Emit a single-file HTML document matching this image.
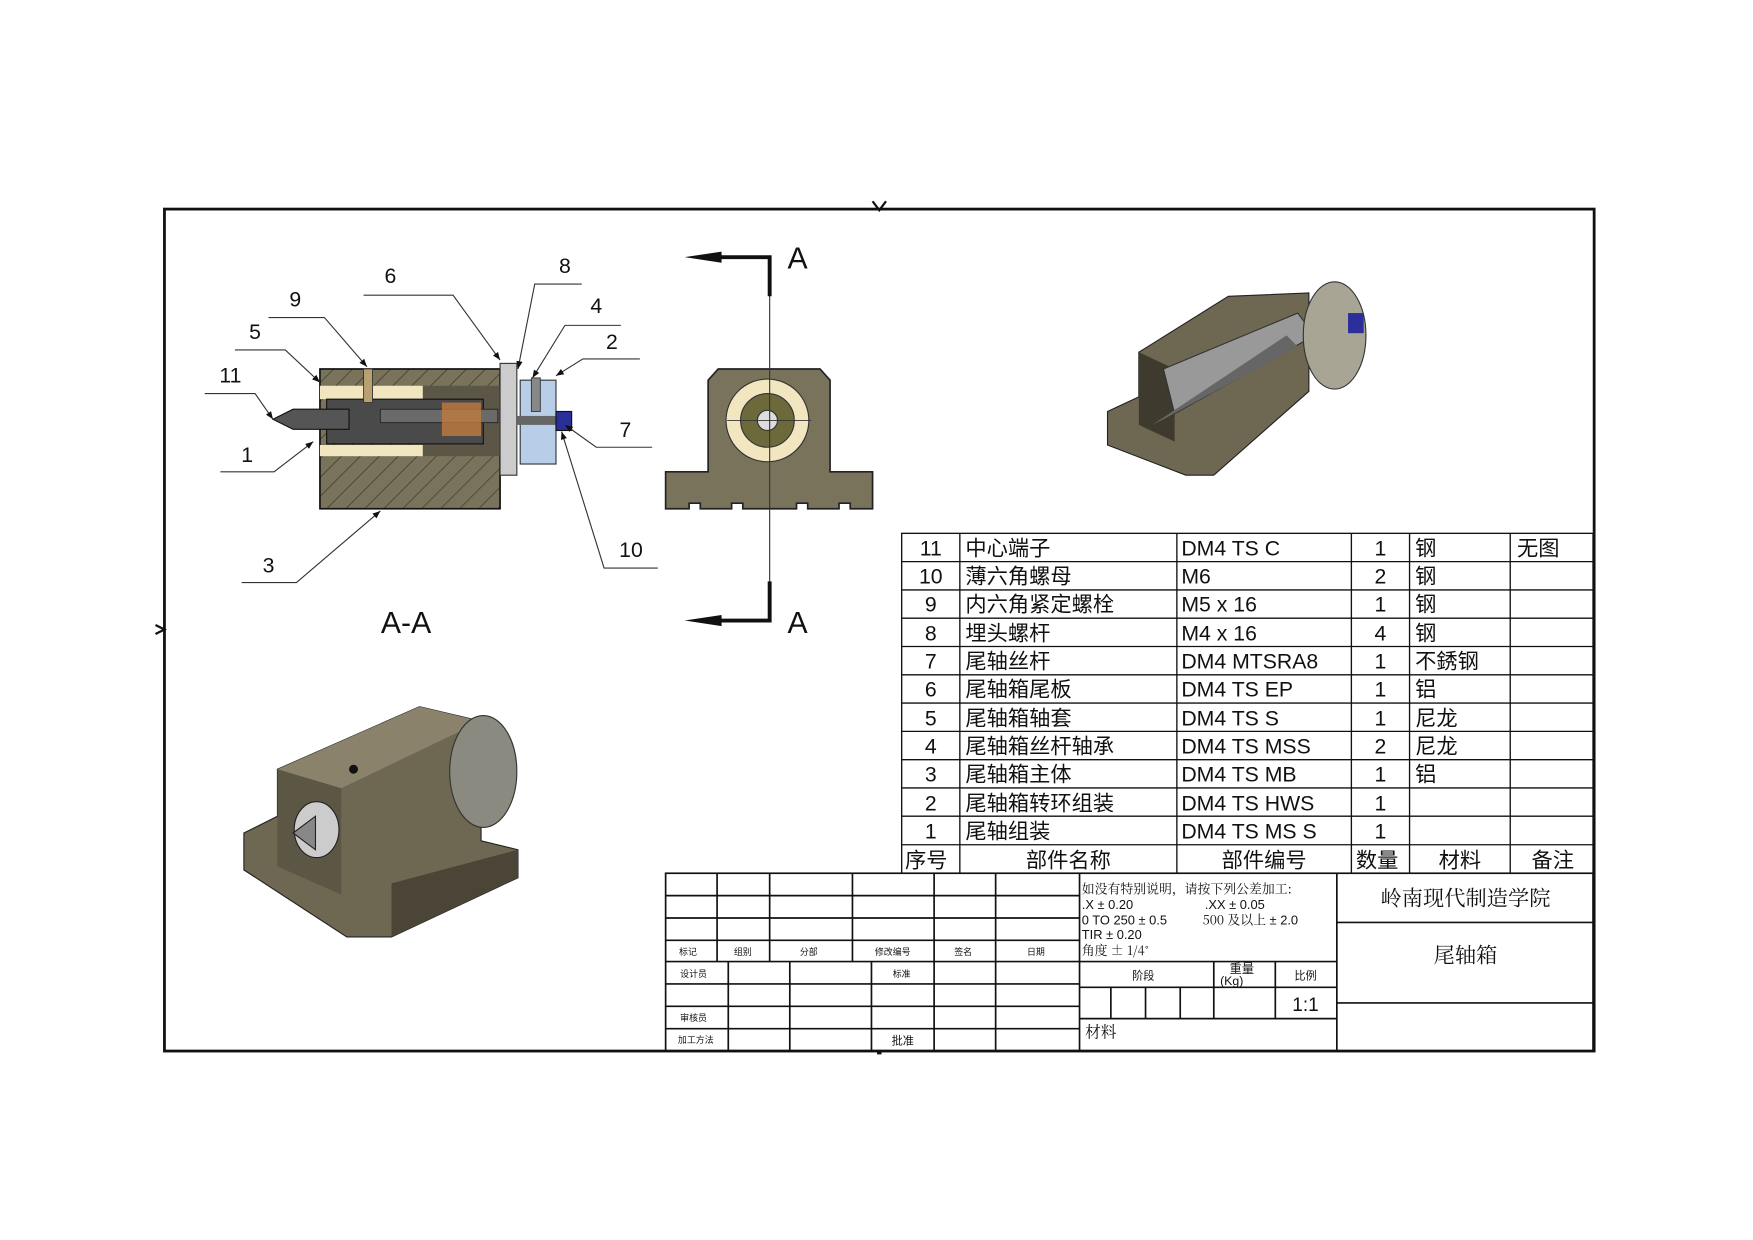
<!DOCTYPE html>
<html><head><meta charset="utf-8"><style>
html,body{margin:0;padding:0;background:#fff}
svg{display:block}
text{font-family:"Liberation Sans","Noto Sans CJK SC",sans-serif;fill:#111}
.cj{font-family:"Noto Serif CJK SC","Noto Sans CJK SC",serif}
</style></head><body>
<svg width="1753" height="1240" viewBox="0 0 1567 1109" preserveAspectRatio="none" xmlns="http://www.w3.org/2000/svg">
<defs>
<pattern id="h" width="12" height="12" patternUnits="userSpaceOnUse" patternTransform="rotate(45)">
<rect width="12" height="12" fill="#7a735c"/><line x1="0" y1="0" x2="0" y2="12" stroke="#2d2a20" stroke-width="1"/></pattern>
<marker id="ar" viewBox="0 0 10 10" refX="10" refY="5" markerWidth="7" markerHeight="7" orient="auto"><path d="M0,1 L10,5 L0,9z" fill="#111"/></marker>
</defs>
<!-- border -->
<rect x="147" y="187" width="1278" height="753" fill="none" stroke="#111" stroke-width="2.5"/>
<path d="M780,180 L786,188 L792,180" stroke="#111" stroke-width="2" fill="none"/>
<path d="M139,559 L147,563 L139,567" stroke="#111" stroke-width="2" fill="none"/>
<rect x="784" y="939" width="4" height="4" fill="#111"/>

<!-- Section A-A -->
<rect x="286" y="330" width="161" height="125" fill="url(#h)" stroke="#111" stroke-width="1.5"/>
<rect x="286" y="345" width="92" height="12" fill="#f1e6bf"/>
<rect x="286" y="398" width="92" height="10" fill="#f1e6bf"/>
<rect x="378" y="345" width="69" height="63" fill="#5c5647"/>
<rect x="292" y="357" width="140" height="40" fill="#4a4a4a" stroke="#111"/>
<rect x="340" y="366" width="105" height="12" fill="#6a6a6a" stroke="#222" stroke-width=".8"/>
<rect x="395" y="360" width="35" height="30" fill="#c07a3c" opacity=".8"/>
<path d="M244,375 L262,366 L312,366 L312,384 L262,384 Z" fill="#555" stroke="#111"/>
<rect x="325" y="330" width="8" height="30" fill="#b8a070" stroke="#333" stroke-width=".8"/>
<rect x="447" y="325" width="15" height="100" fill="#ccc" stroke="#333"/>
<rect x="465" y="340" width="32" height="75" fill="#b8cde8" stroke="#333"/>
<rect x="475" y="338" width="8" height="30" fill="#888" stroke="#333" stroke-width=".8"/>
<rect x="462" y="372" width="40" height="8" fill="#666"/>
<rect x="497" y="368" width="14" height="17" fill="#2a2f9a" stroke="#111"/>
<text x="363" y="566" font-size="27" text-anchor="middle">A-A</text>
<g stroke="#333" stroke-width="1" fill="none">
<polyline points="325,264 405,264 447,322" marker-end="url(#ar)"/>
<polyline points="240,284 290,284 328,328" marker-end="url(#ar)"/>
<polyline points="210,313 255,313 286,342" marker-end="url(#ar)"/>
<polyline points="183,352 228,352 244,375" marker-end="url(#ar)"/>
<polyline points="197,422 245,422 280,395" marker-end="url(#ar)"/>
<polyline points="216,521 265,521 340,457" marker-end="url(#ar)"/>
<polyline points="520,254 478,254 463,330" marker-end="url(#ar)"/>
<polyline points="555,291 505,291 476,338" marker-end="url(#ar)"/>
<polyline points="572,321 521,321 497,336" marker-end="url(#ar)"/>
<polyline points="583,400 533,400 505,380" marker-end="url(#ar)"/>
<polyline points="588,508 540,508 502,386" marker-end="url(#ar)"/>
</g>
<g font-size="19" text-anchor="middle">
<text x="349" y="253">6</text><text x="264" y="274">9</text><text x="228" y="303">5</text>
<text x="206" y="342">11</text><text x="221" y="413">1</text><text x="240" y="512">3</text>
<text x="505" y="244">8</text><text x="533" y="280">4</text><text x="547" y="312">2</text>
<text x="559" y="391">7</text><text x="564" y="498">10</text>
</g>

<!-- front view -->
<path d="M595,422 L633,422 L633,340 L642,330 L733,330 L742,340 L742,422 L780,422 L780,455 L760,455 L760,450 L750,450 L750,455 L722,455 L722,450 L712,450 L712,455 L664,455 L664,450 L654,450 L654,455 L626,455 L626,450 L616,450 L616,455 L595,455 Z" fill="#7a735c" stroke="#222" stroke-width="1.5"/>
<circle cx="686" cy="376" r="37" fill="#f1e6bf" stroke="#333"/>
<circle cx="686" cy="376" r="24" fill="#6c6a3a" stroke="#333"/>
<circle cx="686" cy="376" r="9" fill="#ddd" stroke="#333"/>
<line x1="688" y1="255" x2="688" y2="520" stroke="#333" stroke-width="1"/>
<line x1="650" y1="376" x2="725" y2="376" stroke="#333" stroke-width=".8"/>
<g stroke="#111" stroke-width="3.5" fill="none"><polyline points="640,230 688,230 688,265"/><polyline points="640,555 688,555 688,520"/></g>
<path d="M612,230 L645,225 L645,235 Z" fill="#111"/><path d="M612,555 L645,550 L645,560 Z" fill="#111"/>
<text x="713" y="240" font-size="27" text-anchor="middle">A</text>
<text x="713" y="566" font-size="27" text-anchor="middle">A</text>

<!-- iso view top right -->
<path d="M990,368 L1018,355 L1018,315 L1098,265 L1170,262 L1170,350 L1085,425 L1060,425 L990,398 Z" fill="#6e6752" stroke="#222"/>
<path d="M1018,315 L1050,330 L1050,395 L1018,380 Z" fill="#3f3a2e"/>
<path d="M1040,330 L1160,280 L1175,300 L1050,370 Z" fill="#999" stroke="#333"/>
<path d="M1030,380 L1150,300 L1160,310 L1040,375 Z" fill="#666"/>
<ellipse cx="1193" cy="300" rx="28" ry="48" fill="#a9a595" stroke="#333"/>
<rect x="1205" y="280" width="14" height="18" fill="#2a2f9a"/>

<!-- iso view bottom left -->
<path d="M218,745 L248,730 L248,688 L375,632 L430,645 L430,752 L463,760 L463,785 L350,838 L310,838 L218,778 Z" fill="#6e6752" stroke="#222"/>
<path d="M248,688 L375,632 L430,645 L305,705 Z" fill="#8a826a"/>
<path d="M248,688 L305,705 L305,800 L248,775 Z" fill="#5c5645"/>
<path d="M350,790 L463,760 L463,785 L350,838 Z" fill="#4a4536"/>
<ellipse cx="432" cy="690" rx="30" ry="50" fill="#8a8a80" stroke="#333"/>
<ellipse cx="283" cy="742" rx="20" ry="25" fill="#ccc" stroke="#222"/>
<path d="M262,745 L282,730 L282,760 Z" fill="#888" stroke="#222"/>
<circle cx="316" cy="688" r="4" fill="#111"/>

<!-- parts table -->
<g stroke="#111" stroke-width="1.2" fill="none">
<rect x="806" y="477" width="618" height="304"/>
<line x1="858" y1="477" x2="858" y2="781"/><line x1="1052" y1="477" x2="1052" y2="781"/>
<line x1="1208" y1="477" x2="1208" y2="781"/><line x1="1260" y1="477" x2="1260" y2="781"/>
<line x1="1350" y1="477" x2="1350" y2="781"/>
<line x1="806" y1="502.3" x2="1424" y2="502.3"/><line x1="806" y1="527.6" x2="1424" y2="527.6"/>
<line x1="806" y1="552.9" x2="1424" y2="552.9"/><line x1="806" y1="578.2" x2="1424" y2="578.2"/>
<line x1="806" y1="603.5" x2="1424" y2="603.5"/><line x1="806" y1="628.8" x2="1424" y2="628.8"/>
<line x1="806" y1="654.1" x2="1424" y2="654.1"/><line x1="806" y1="679.4" x2="1424" y2="679.4"/>
<line x1="806" y1="704.7" x2="1424" y2="704.7"/><line x1="806" y1="730" x2="1424" y2="730"/>
<line x1="806" y1="755.5" x2="1424" y2="755.5"/>
</g>
<g font-size="19">
<g text-anchor="middle">
<text x="832" y="497">11</text><text x="832" y="522">10</text><text x="832" y="547">9</text><text x="832" y="573">8</text>
<text x="832" y="598">7</text><text x="832" y="623">6</text><text x="832" y="649">5</text><text x="832" y="674">4</text>
<text x="832" y="699">3</text><text x="832" y="725">2</text><text x="832" y="750">1</text>
<text x="1234" y="497">1</text><text x="1234" y="522">2</text><text x="1234" y="547">1</text><text x="1234" y="573">4</text>
<text x="1234" y="598">1</text><text x="1234" y="623">1</text><text x="1234" y="649">1</text><text x="1234" y="674">2</text>
<text x="1234" y="699">1</text><text x="1234" y="725">1</text><text x="1234" y="750">1</text>
</g>
<g class="cj">
<text x="863" y="497">中心端子</text><text x="863" y="522">薄六角螺母</text><text x="863" y="547">内六角紧定螺栓</text>
<text x="863" y="573">埋头螺杆</text><text x="863" y="598">尾轴丝杆</text><text x="863" y="623">尾轴箱尾板</text>
<text x="863" y="649">尾轴箱轴套</text><text x="863" y="674">尾轴箱丝杆轴承</text><text x="863" y="699">尾轴箱主体</text>
<text x="863" y="725">尾轴箱转环组装</text><text x="863" y="750">尾轴组装</text>
<text x="1265" y="497">钢</text><text x="1265" y="522">钢</text><text x="1265" y="547">钢</text><text x="1265" y="573">钢</text>
<text x="1265" y="598">不銹钢</text><text x="1265" y="623">铝</text><text x="1265" y="649">尼龙</text><text x="1265" y="674">尼龙</text>
<text x="1265" y="699">铝</text><text x="1356" y="497">无图</text>
<text x="809" y="776">序号</text><text x="955" y="776" text-anchor="middle">部件名称</text>
<text x="1130" y="776" text-anchor="middle">部件编号</text><text x="1212" y="776">数量</text>
<text x="1305" y="776" text-anchor="middle">材料</text><text x="1388" y="776" text-anchor="middle">备注</text>
</g>
<text x="1056" y="497">DM4 TS C</text><text x="1056" y="522">M6</text><text x="1056" y="547">M5 x 16</text>
<text x="1056" y="573">M4 x  16</text><text x="1056" y="598">DM4 MTSRA8</text><text x="1056" y="623">DM4 TS EP</text>
<text x="1056" y="649">DM4 TS S</text><text x="1056" y="674">DM4 TS MSS</text><text x="1056" y="699">DM4 TS MB</text>
<text x="1056" y="725">DM4 TS HWS</text><text x="1056" y="750">DM4 TS MS S</text>
</g>

<!-- title block -->
<g stroke="#111" stroke-width="1.5" fill="none">
<rect x="595" y="781" width="829" height="159"/>
<line x1="965" y1="781" x2="965" y2="940"/><line x1="1195" y1="781" x2="1195" y2="940"/>
<line x1="595" y1="801" x2="965" y2="801"/><line x1="595" y1="821" x2="965" y2="821"/>
<line x1="595" y1="841" x2="965" y2="841"/><line x1="595" y1="860" x2="965" y2="860"/>
<line x1="595" y1="880" x2="965" y2="880"/><line x1="595" y1="900" x2="965" y2="900"/>
<line x1="595" y1="920" x2="965" y2="920"/>
<line x1="641" y1="781" x2="641" y2="860"/><line x1="688" y1="781" x2="688" y2="860"/>
<line x1="762" y1="781" x2="762" y2="860"/><line x1="835" y1="781" x2="835" y2="940"/>
<line x1="890" y1="781" x2="890" y2="940"/>
<line x1="651" y1="860" x2="651" y2="940"/><line x1="706" y1="860" x2="706" y2="940"/>
<line x1="779" y1="860" x2="779" y2="940"/>
<line x1="965" y1="860" x2="1195" y2="860"/><line x1="965" y1="883" x2="1195" y2="883"/>
<line x1="965" y1="911" x2="1195" y2="911"/>
<line x1="1085" y1="860" x2="1085" y2="911"/><line x1="1140" y1="860" x2="1140" y2="911"/>
<line x1="993" y1="883" x2="993" y2="911"/><line x1="1024" y1="883" x2="1024" y2="911"/>
<line x1="1055" y1="883" x2="1055" y2="911"/>
<line x1="1195" y1="825" x2="1424" y2="825"/><line x1="1195" y1="897" x2="1424" y2="897"/>
</g>
<g class="cj" font-size="8" fill="#444">
<text x="607" y="854">标记</text><text x="656" y="854">组别</text><text x="715" y="854">分部</text>
<text x="782" y="854">修改编号</text><text x="853" y="854">签名</text><text x="918" y="854">日期</text>
<text x="608" y="874">设计员</text><text x="798" y="874">标准</text>
<text x="608" y="913">审核员</text><text x="606" y="933">加工方法</text><text x="797" y="934" font-size="10">批准</text>
<text x="1012" y="876" font-size="10">阶段</text><text x="1157" y="876" font-size="10">比例</text>
<text x="1099" y="870" font-size="11">重量</text>
</g>
<text x="1101" y="881" font-size="11" text-anchor="middle">(Kg)</text>
<g font-size="11.5">
<text x="967" y="799" class="cj">如没有特别说明，请按下列公差加工:</text>
<text x="967" y="813">.X ± 0.20</text><text x="1077" y="813">.XX ± 0.05</text>
<text x="967" y="827">0 TO 250 ± 0.5</text><text x="1075" y="827"><tspan class="cj">500 及以上</tspan> ± 2.0</text>
<text x="967" y="840">TIR ± 0.20</text><text x="967" y="854" class="cj">角度 ± 1/4˚</text>
</g>
<text x="1167" y="904" font-size="17" text-anchor="middle">1:1</text>
<text x="970" y="928" font-size="14" class="cj">材料</text>
<text x="1310" y="810" font-size="19" text-anchor="middle" class="cj">岭南现代制造学院</text>
<text x="1310" y="861" font-size="19" text-anchor="middle" class="cj">尾轴箱</text>
</svg>
</body></html>
